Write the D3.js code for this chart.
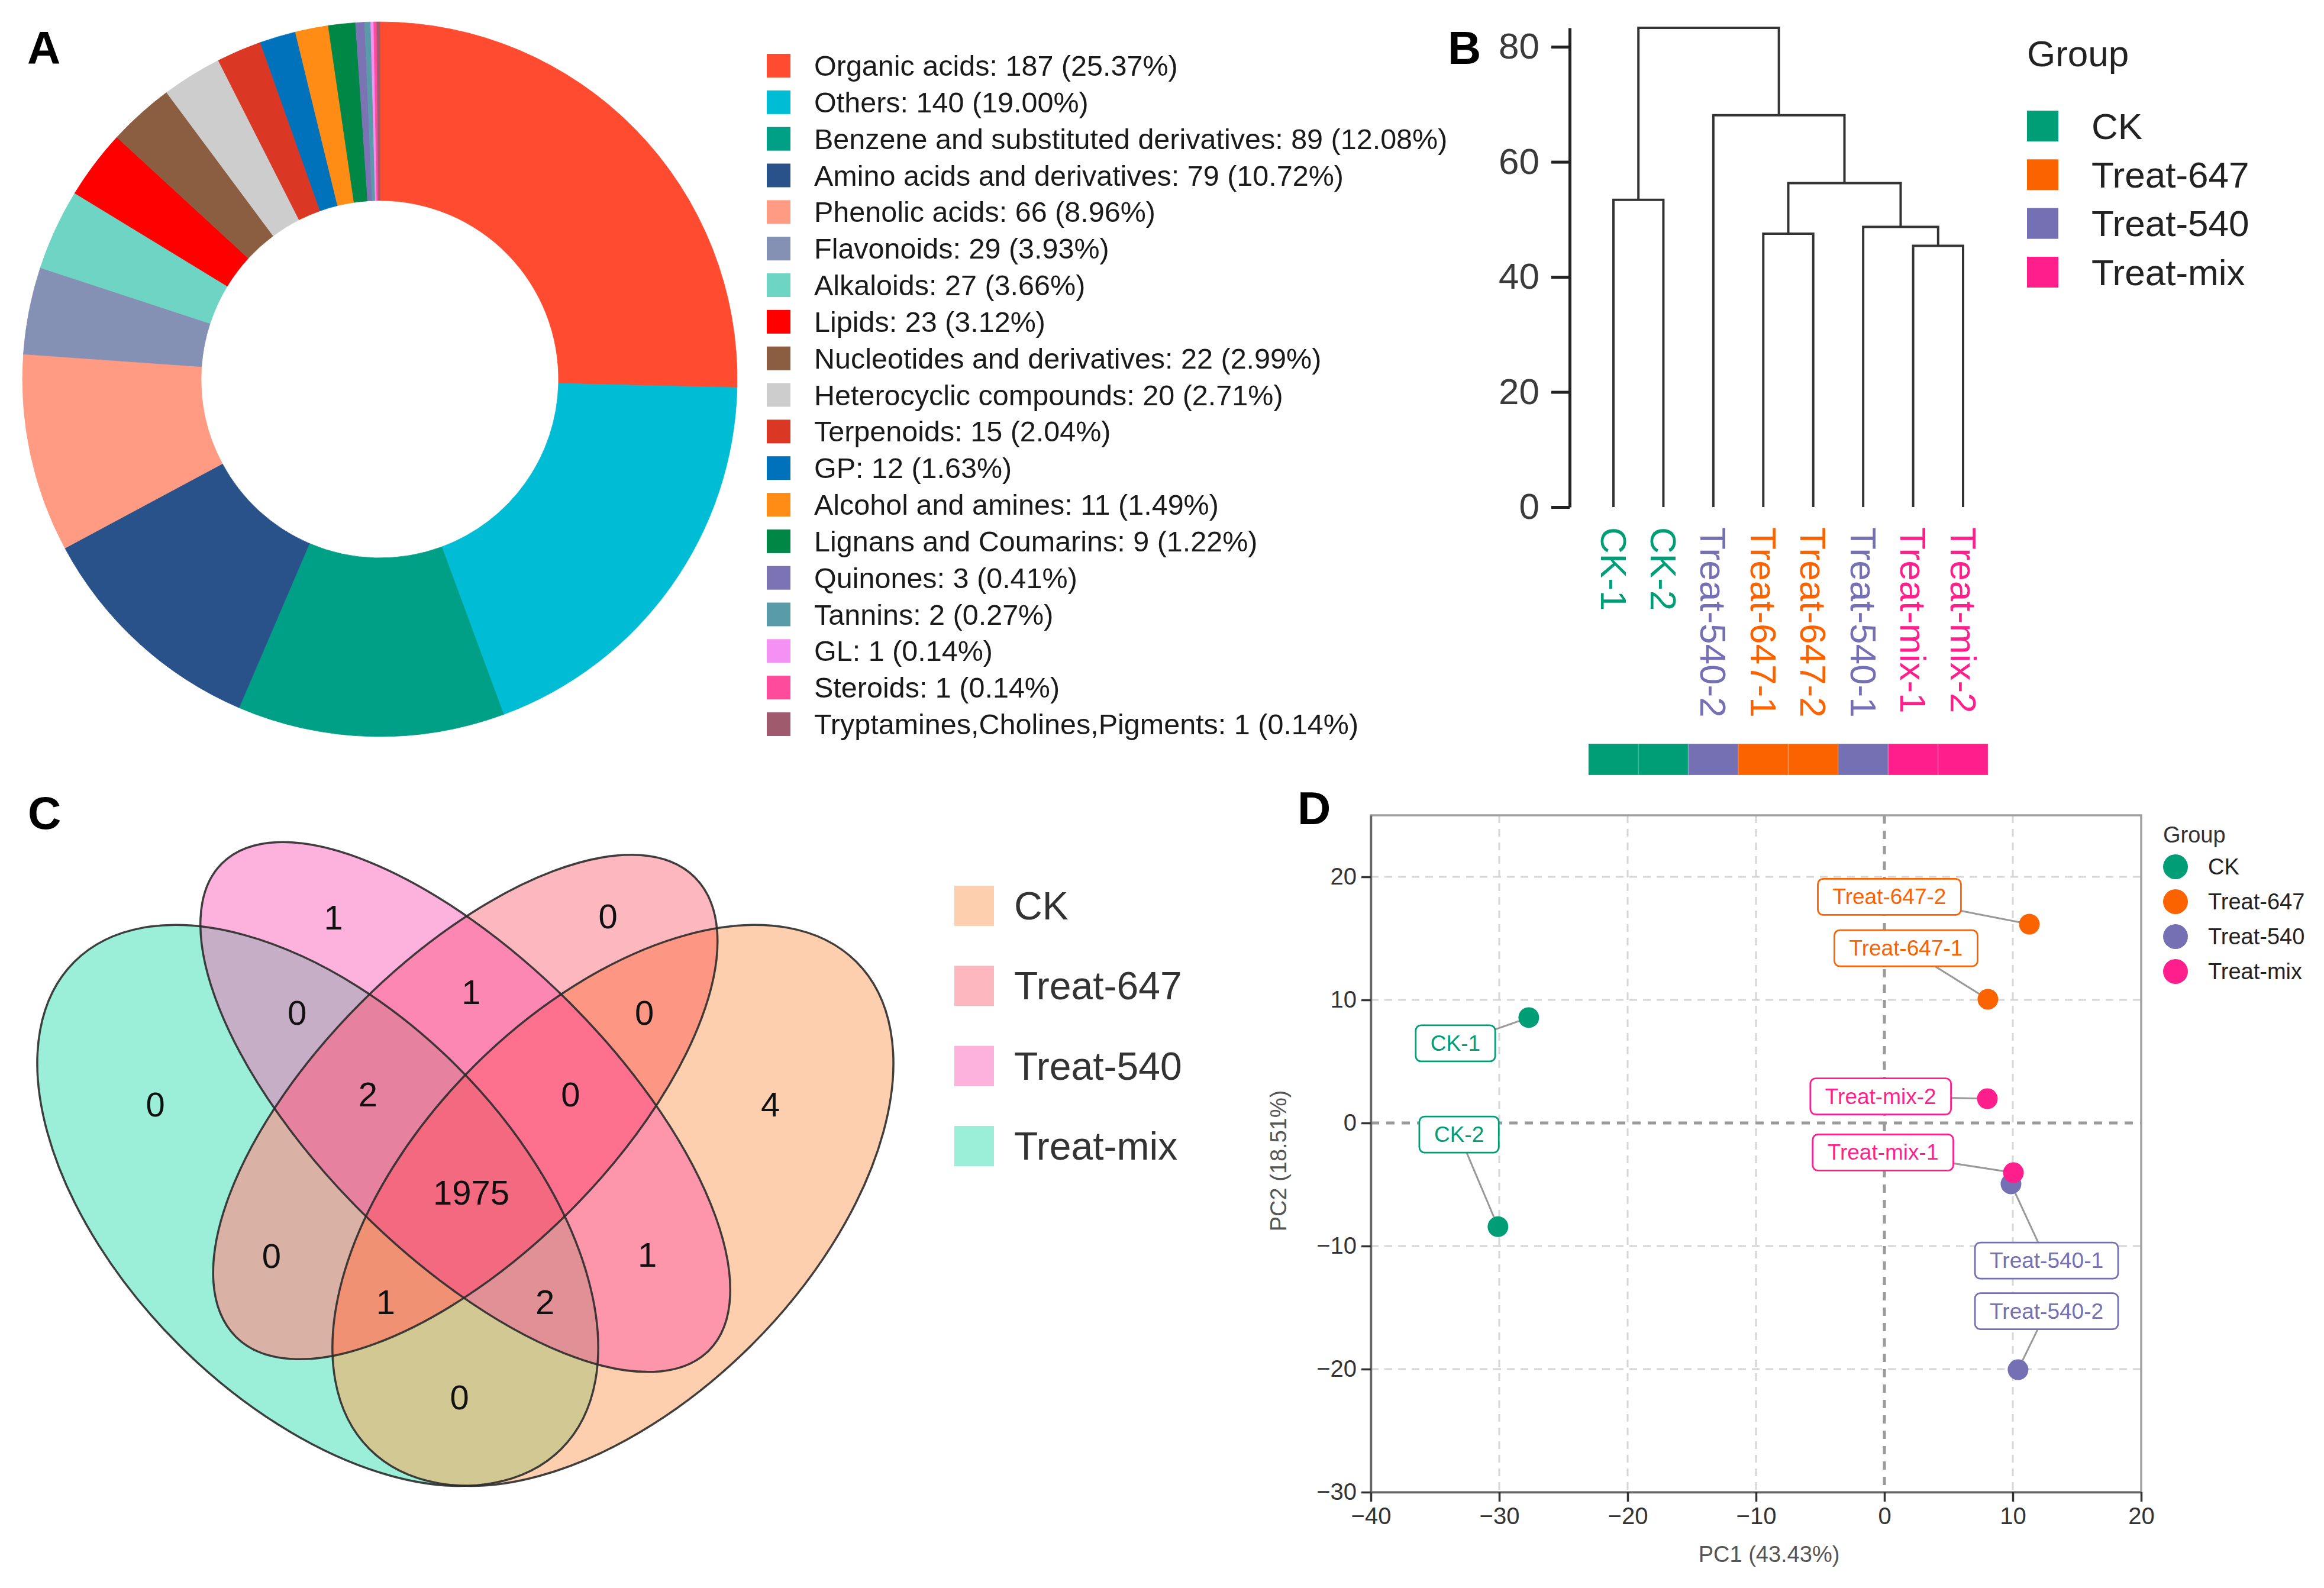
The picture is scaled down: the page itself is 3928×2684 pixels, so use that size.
<!DOCTYPE html>
<html><head><meta charset="utf-8">
<script src="https://cdn.jsdelivr.net/npm/d3@7"></script>
<style>body{margin:0;background:#fff}</style>
</head><body>
<svg id="fig" width="3928" height="2684"></svg>
<script>
// ---------------- DATA ----------------
// Panel A
const classNames = ["Organic acids","Others","Benzene and substituted derivatives","Amino acids and derivatives","Phenolic acids","Flavonoids","Alkaloids","Lipids","Nucleotides and derivatives","Heterocyclic compounds","Terpenoids","GP","Alcohol and amines","Lignans and Coumarins","Quinones","Tannins","GL","Steroids","Tryptamines,Cholines,Pigments"];
const classCounts = [187,140,89,79,66,29,27,23,22,20,15,12,11,9,3,2,1,1,1];
const classPercents = ["25.37%","19.00%","12.08%","10.72%","8.96%","3.93%","3.66%","3.12%","2.99%","2.71%","2.04%","1.63%","1.49%","1.22%","0.41%","0.27%","0.14%","0.14%","0.14%"];
const classColors = ["#FF4B30","#00BCD4","#00A087","#2A528A","#FF9B82","#8491B4","#6ED4C3","#FF0000","#8B5E42","#CDCDCD","#DA3724","#0072BB","#FF8C14","#008746","#7B73B4","#5A9BAA","#F591F5","#FF4B9B","#A05A6E"];

// Groups (B, C, D)
const groupNames = ["CK","Treat-647","Treat-540","Treat-mix"];
const groupColors = ["#009E77","#FB6200","#7570B3","#FF1F8C"];

// Panel B: hierarchical clustering
const leafNames = ["CK-1","CK-2","Treat-540-2","Treat-647-1","Treat-647-2","Treat-540-1","Treat-mix-1","Treat-mix-2"];
const leafGroups = ["CK","CK","Treat-540","Treat-647","Treat-647","Treat-540","Treat-mix","Treat-mix"];
// merges (hclust style): negative = leaf index (1-based), positive = earlier merge (1-based)
const mergeLeft  = [-7,-4,-6,-1, 2,-3, 4];
const mergeRight = [-8,-5, 1,-2, 3, 5, 6];
const mergeHeight = [45.4,47.5,48.7,53.4,56.3,68.1,83.3];
const dendroTicks = [0,20,40,60,80];

// Panel C: Venn
const vennLegendColors = ["#FDCFAF","#FDB7BE","#FDB2DE","#9BEED7"]; // CK, 647, 540, mix
const vennRegionSets = [["Treat-540"],["Treat-540","Treat-647"],["Treat-647"],["Treat-mix","Treat-540"],["Treat-mix","Treat-540","Treat-647"],["Treat-mix","Treat-540","Treat-647","CK"],["Treat-540","Treat-647","CK"],["Treat-647","CK"],["Treat-mix"],["Treat-mix","Treat-647"],["Treat-mix","Treat-647","CK"],["Treat-mix","CK"],["Treat-mix","Treat-540","CK"],["Treat-540","CK"],["CK"]];
const vennRegionCounts = [1,1,0,0,2,1975,0,0,0,0,1,0,2,1,4];
const vennRegionColors = ["#FDB2DE","#FC87B2","#FDB7BE","#C6AFC6","#E6829F","#F36980","#FD708E","#FD9682","#9BEED7","#DAB2A5","#F09173","#D2C894","#E19196","#FD96AA","#FDCFAF"];

// Panel D: PCA
const pcaNames = ["CK-1","CK-2","Treat-647-1","Treat-647-2","Treat-540-1","Treat-540-2","Treat-mix-1","Treat-mix-2"];
const pcaGroups = ["CK","CK","Treat-647","Treat-647","Treat-540","Treat-540","Treat-mix","Treat-mix"];
const pc1 = [-27.7,-30.1,8.06,11.29,9.86,10.41,10.05,8.02];
const pc2 = [8.56,-8.43,10.05,16.15,-4.95,-20.05,-4.04,1.97];
const labelPc1 = [-33.41,-33.13,1.68,0.39,12.63,12.63,-0.11,-0.29];
const labelPc2 = [6.47,-0.94,14.2,18.37,-11.18,-15.29,-2.4,2.16];
const pcaXTicks = [-40,-30,-20,-10,0,10,20];
const pcaYTicks = [-30,-20,-10,0,10,20];

// ---------------- DRAW ----------------
const FONT = "'Liberation Sans', Arial, Helvetica, sans-serif";
const svg = d3.select("#fig").style("font-family", FONT);
svg.append("rect").attr("width",3928).attr("height",2684).attr("fill","#fff");
const gColor = d3.scaleOrdinal().domain(groupNames).range(groupColors);

// Panel letters
[["A",46,108],["B",2447,108],["C",47,1401],["D",2193,1393]].forEach(([t,x,y])=>{
  svg.append("text").attr("x",x).attr("y",y).attr("font-size",78).attr("font-weight","bold").attr("fill","#000").text(t);
});

// ===== Panel A =====
{
  const pie = d3.pie().sort(null).value(d=>d)(classCounts);
  const arc = d3.arc().innerRadius(302).outerRadius(604);
  const g = svg.append("g").attr("transform","translate(642,641)");
  g.selectAll("path").data(pie).join("path")
    .attr("d",arc).attr("fill",(d,i)=>classColors[i])
    .attr("stroke",(d,i)=>classColors[i]).attr("stroke-width",0.8);
  const rowY = d3.scalePoint().domain(d3.range(classNames.length)).range([111,1224]);
  const leg = svg.append("g").attr("transform","translate(1296,0)");
  leg.selectAll("rect").data(classNames).join("rect")
    .attr("x",0).attr("y",(d,i)=>rowY(i)-20).attr("width",40).attr("height",40)
    .attr("fill",(d,i)=>classColors[i]);
  leg.selectAll("text").data(classNames).join("text")
    .attr("x",80).attr("y",(d,i)=>rowY(i)).attr("dominant-baseline","central")
    .attr("font-size",48.5).attr("fill","#1a1a1a")
    .text((d,i)=>`${d}: ${classCounts[i]} (${classPercents[i]})`);
}

// ===== Panel B =====
{
  const x = d3.scalePoint().domain(leafNames).range([2727,3318]);
  const y = d3.scaleLinear().domain([0,d3.max(mergeHeight)]).range([857,47]);
  const g = svg.append("g");
  const axis = d3.axisLeft(y).tickValues(dendroTicks).tickSize(31).tickSizeOuter(0).tickPadding(20);
  const ax = g.append("g").attr("transform","translate(2653,0)").call(axis);
  ax.select(".domain").attr("stroke","#222").attr("stroke-width",5);
  ax.selectAll(".tick line").attr("stroke","#222").attr("stroke-width",5);
  ax.selectAll(".tick text").attr("font-size",62).attr("fill","#3a3a3a").attr("font-family",FONT);
  const pos = (id)=> id<0 ? {x:x(leafNames[-id-1]),h:0} : nodes[id-1];
  const nodes = [];
  mergeHeight.forEach((h,k)=>{
    const a = pos(mergeLeft[k]), b = pos(mergeRight[k]);
    nodes.push({x:(a.x+b.x)/2,h:h,a:a,b:b});
  });
  g.selectAll("path.dend").data(nodes).join("path").attr("class","dend")
    .attr("d",n=>`M${n.a.x},${y(n.a.h)}V${y(n.h)}H${n.b.x}V${y(n.b.h)}`)
    .attr("fill","none").attr("stroke","#333").attr("stroke-width",4);
  g.selectAll("text.leaf").data(leafNames).join("text").attr("class","leaf")
    .attr("transform",d=>`translate(${x(d)},891) rotate(90)`)
    .attr("dominant-baseline","central").attr("font-size",62)
    .attr("fill",(d,i)=>gColor(leafGroups[i])).text(d=>d);
  const step = x.step();
  g.selectAll("rect.bar").data(leafNames).join("rect").attr("class","bar")
    .attr("x",d=>x(d)-step/2).attr("y",1257).attr("width",step).attr("height",53)
    .attr("fill",(d,i)=>gColor(leafGroups[i]))
    .attr("stroke","#ffffff").attr("stroke-opacity",0.12).attr("stroke-width",2);
  g.append("text").attr("x",3426).attr("y",112).attr("font-size",62).attr("fill","#222").text("Group");
  const ly = d3.scalePoint().domain(groupNames).range([213,460]);
  g.selectAll("rect.lg").data(groupNames).join("rect").attr("class","lg")
    .attr("x",3426).attr("y",d=>ly(d)-26).attr("width",53).attr("height",52).attr("fill",d=>gColor(d));
  g.selectAll("text.lg").data(groupNames).join("text").attr("class","lg")
    .attr("x",3535).attr("y",d=>ly(d)).attr("dominant-baseline","central")
    .attr("font-size",62).attr("fill","#222").text(d=>d);
}

// ===== Panel C =====
{
  const S = 1663;
  const ux = d3.scaleLinear().domain([0,1]).range([786.5-S/2, 786.5+S/2]);
  const uy = d3.scaleLinear().domain([0,1]).range([2819, 2819-S]);
  const geom = { // x, y, a, b, rotation (quad Venn layout, unit square)
    "CK":[0.65,0.47,0.35,0.20,45],
    "Treat-mix":[0.35,0.47,0.35,0.20,135],
    "Treat-647":[0.50,0.57,0.33,0.15,45],
    "Treat-540":[0.50,0.57,0.35,0.15,135]
  };
  const labelPos = [[0.366,0.763],[0.506,0.687],[0.645,0.764],[0.329,0.666],[0.401,0.583],[0.506,0.483],[0.607,0.583],[0.682,0.666],[0.185,0.573],[0.303,0.419],[0.419,0.372],[0.494,0.275],[0.581,0.372],[0.685,0.420],[0.810,0.573]];
  const ell = (sel,name)=>{
    const [cx,cy,a,b,r] = geom[name];
    return sel.append("ellipse").attr("cx",ux(cx)).attr("cy",uy(cy))
      .attr("rx",a*S).attr("ry",b*S)
      .attr("transform",`rotate(${-r},${ux(cx)},${uy(cy)})`);
  };
  const defs = svg.append("defs");
  const cid = n=>"vclip-"+n.replace(/[^A-Za-z0-9]/g,"");
  groupNames.forEach(n=>{ ell(defs.append("clipPath").attr("id",cid(n)), n); });
  const g = svg.append("g");
  const order = d3.range(vennRegionSets.length).sort((a,b)=>vennRegionSets[a].length-vennRegionSets[b].length);
  order.forEach(i=>{
    const sets = vennRegionSets[i];
    let parent = g;
    sets.slice(0,-1).forEach(s=>{ parent = parent.append("g").attr("clip-path",`url(#${cid(s)})`); });
    ell(parent, sets[sets.length-1]).attr("fill",vennRegionColors[i]);
  });
  ["Treat-mix","CK","Treat-647","Treat-540"].forEach(n=>{
    ell(g,n).attr("fill","none").attr("stroke","#2b2b2b").attr("stroke-width",3.5).attr("stroke-opacity",0.9);
  });
  g.selectAll("text.vn").data(vennRegionCounts).join("text").attr("class","vn")
    .attr("x",(d,i)=>ux(labelPos[i][0])).attr("y",(d,i)=>uy(labelPos[i][1]))
    .attr("text-anchor","middle").attr("dominant-baseline","central")
    .attr("font-size",58).attr("fill","#111").text(d=>d);
  const ly = d3.scalePoint().domain(groupNames).range([1531,1937]);
  g.selectAll("rect.lg").data(groupNames).join("rect").attr("class","lg")
    .attr("x",1613).attr("y",d=>ly(d)-34).attr("width",67).attr("height",68)
    .attr("fill",(d,i)=>vennLegendColors[i]);
  g.selectAll("text.lg").data(groupNames).join("text").attr("class","lg")
    .attr("x",1714).attr("y",d=>ly(d)).attr("dominant-baseline","central")
    .attr("font-size",66).attr("fill","#333").text(d=>d);
}

// ===== Panel D =====
{
  const x = d3.scaleLinear().domain([-40,20]).range([2317,3619]);
  const y = d3.scaleLinear().domain([-30,25]).range([2522,1378]);
  const g = svg.append("g");
  const gx = pcaXTicks.filter(v=>v>-40 && v<20), gy = pcaYTicks.filter(v=>v>-30);
  g.selectAll("line.gx").data(gx).join("line").attr("class","gx")
    .attr("x1",d=>x(d)).attr("x2",d=>x(d)).attr("y1",y(25)).attr("y2",y(-30))
    .attr("stroke",d=>d===0?"#9a9a9a":"#d6d6d6").attr("stroke-width",d=>d===0?5:3)
    .attr("stroke-dasharray",d=>d===0?"14,12":"13,10");
  g.selectAll("line.gy").data(gy).join("line").attr("class","gy")
    .attr("y1",d=>y(d)).attr("y2",d=>y(d)).attr("x1",x(-40)).attr("x2",x(20))
    .attr("stroke",d=>d===0?"#9a9a9a":"#d6d6d6").attr("stroke-width",d=>d===0?5:3)
    .attr("stroke-dasharray",d=>d===0?"14,12":"13,10");
  g.append("rect").attr("x",x(-40)).attr("y",y(25)).attr("width",x(20)-x(-40)).attr("height",y(-30)-y(25))
    .attr("fill","none").attr("stroke","#a0a0a0").attr("stroke-width",3.5);
  const axB = g.append("g").attr("transform",`translate(0,${y(-30)})`)
    .call(d3.axisBottom(x).tickValues(pcaXTicks).tickSize(16).tickSizeOuter(0).tickPadding(10));
  const axL = g.append("g").attr("transform",`translate(${x(-40)},0)`)
    .call(d3.axisLeft(y).tickValues(pcaYTicks).tickSize(16).tickSizeOuter(0).tickPadding(8));
  [axB,axL].forEach(a=>{
    a.select(".domain").attr("stroke","#666").attr("stroke-width",3.5);
    a.selectAll(".tick line").attr("stroke","#333").attr("stroke-width",3.5);
    a.selectAll(".tick text").attr("font-size",40).attr("fill","#333").attr("font-family",FONT);
  });
  g.append("text").attr("x",2990).attr("y",2640).attr("text-anchor","middle")
    .attr("font-size",38).attr("fill","#555").text("PC1 (43.43%)");
  g.append("text").attr("transform","translate(2161,1962) rotate(-90)").attr("text-anchor","middle")
    .attr("dominant-baseline","central").attr("font-size",38).attr("fill","#555").text("PC2 (18.51%)");
  const items = pcaNames.map((n,i)=>({n, grp:pcaGroups[i], px:x(pc1[i]), py:y(pc2[i]), lx:x(labelPc1[i]), ly:y(labelPc2[i])}));
  const tmp = g.append("text").attr("font-size",37);
  items.forEach(d=>{ tmp.text(d.n); d.w = tmp.node().getComputedTextLength()+50; d.h = 61; });
  tmp.remove();
  items.forEach(d=>{
    const dx = d.px-d.lx, dy = d.py-d.ly;
    const tx = dx!==0 ? (d.w/2)/Math.abs(dx) : Infinity;
    const ty = dy!==0 ? (d.h/2)/Math.abs(dy) : Infinity;
    const t = Math.min(tx,ty);
    d.ex = d.lx + dx*t; d.ey = d.ly + dy*t;
    d.inside = t>=1;
  });
  g.selectAll("line.seg").data(items.filter(d=>!d.inside)).join("line").attr("class","seg")
    .attr("x1",d=>d.ex).attr("y1",d=>d.ey).attr("x2",d=>d.px).attr("y2",d=>d.py)
    .attr("stroke","#999").attr("stroke-width",3);
  const drawOrder = [0,1,2,3,5,4,6,7];
  g.selectAll("circle.pt").data(drawOrder.map(i=>items[i])).join("circle").attr("class","pt")
    .attr("cx",d=>d.px).attr("cy",d=>d.py).attr("r",17.5).attr("fill",d=>gColor(d.grp));
  const lb = g.selectAll("g.lb").data(items).join("g").attr("class","lb");
  lb.append("rect").attr("x",d=>d.lx-d.w/2).attr("y",d=>d.ly-d.h/2).attr("width",d=>d.w).attr("height",d=>d.h)
    .attr("rx",9).attr("fill","#fff").attr("stroke",d=>gColor(d.grp)).attr("stroke-width",2.8);
  lb.append("text").attr("x",d=>d.lx).attr("y",d=>d.ly).attr("text-anchor","middle").attr("dominant-baseline","central")
    .attr("font-size",37).attr("fill",d=>gColor(d.grp)).text(d=>d.n);
  g.append("text").attr("x",3656).attr("y",1424).attr("font-size",38).attr("fill","#333").text("Group");
  const ly = d3.scalePoint().domain(groupNames).range([1465,1642]);
  g.selectAll("circle.lg").data(groupNames).join("circle").attr("class","lg")
    .attr("cx",3677).attr("cy",d=>ly(d)).attr("r",21).attr("fill",d=>gColor(d));
  g.selectAll("text.lg").data(groupNames).join("text").attr("class","lg")
    .attr("x",3732).attr("y",d=>ly(d)).attr("dominant-baseline","central")
    .attr("font-size",38).attr("fill","#222").text(d=>d);
}
</script>
</body></html>
